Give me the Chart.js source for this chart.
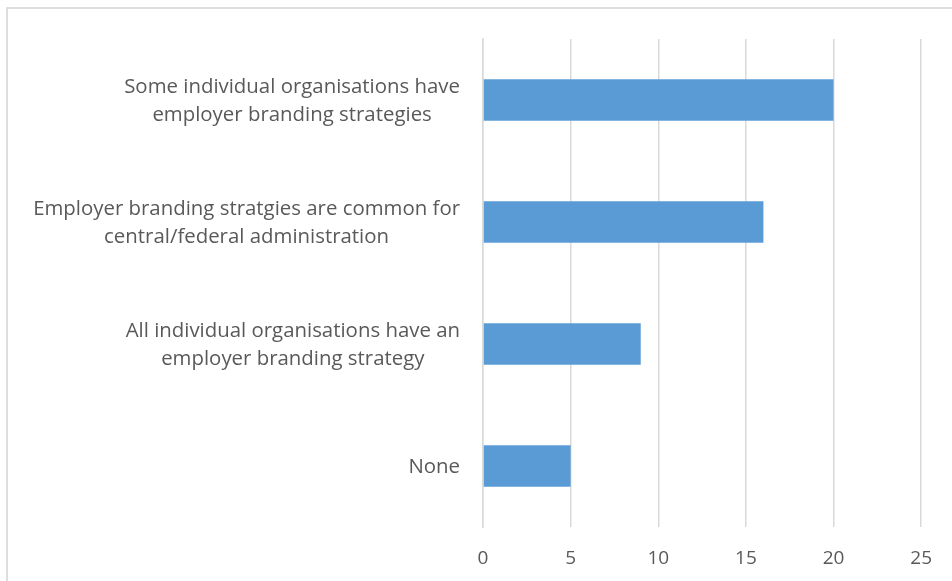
<!DOCTYPE html>
<html>
<head>
<meta charset="utf-8">
<script src="https://cdn.jsdelivr.net/npm/chart.js@4/dist/chart.umd.min.js"></script>
<style>
	html, body { margin: 0; padding: 0; background: #fff; }
	#wrap { position: relative; width: 952px; height: 581px; overflow: hidden; }
	#chartBox { position: absolute; left: 0; top: 0; width: 952px; height: 581px; }
</style>
</head>
<body>
<div id="wrap">
	<div id="chartBox"><canvas id="barChart" width="952" height="581"></canvas></div>
</div>
<script>
// categories, each split into the lines shown beside the bar
var categories = [
	['Some individual organisations have', 'employer branding strategies'],
	['Employer branding stratgies are common for', 'central/federal administration'],
	['All individual organisations have an', 'employer branding strategy'],
	['None']
];
var values = [20, 16, 9, 5];
var xMin = 0;
var xMax = 25;
var xStep = 5;

var textColor = '#595959';
var gridColor = '#d9d9d9';
var barColor = '#5b9bd5';
var labelFont = '20.4px "Open Sans", sans-serif';

// frame around the chart
var framePlugin = {
	id: 'frame',
	beforeDraw: function(chart) {
		var ctx = chart.ctx;
		ctx.save();
		ctx.fillStyle = '#fff';
		ctx.fillRect(0, 0, chart.width, chart.height);
		ctx.strokeStyle = '#d4d4d4';
		ctx.lineWidth = 1.5;
		ctx.beginPath();
		ctx.moveTo(7, chart.height);
		ctx.lineTo(7, 8);
		ctx.lineTo(chart.width, 8);
		ctx.stroke();
		ctx.restore();
	}
};

// category labels: lines centred on each other, block right-aligned to the axis
var categoryLabels = {
	id: 'categoryLabels',
	afterDraw: function(chart) {
		var ctx = chart.ctx;
		var yScale = chart.scales.y;
		var gap = 23;
		var lineH = 28;
		ctx.save();
		ctx.font = labelFont;
		ctx.fillStyle = textColor;
		ctx.textAlign = 'center';
		ctx.textBaseline = 'middle';
		categories.forEach(function(lines, i) {
			var yc = yScale.getPixelForValue(i) + 1;
			var w = 0;
			lines.forEach(function(l) { w = Math.max(w, ctx.measureText(l).width); });
			var cx = chart.chartArea.left - gap - w / 2;
			lines.forEach(function(l, j) {
				ctx.fillText(l, cx, yc + (j - (lines.length - 1) / 2) * lineH);
			});
		});
		ctx.restore();
	}
};

var ctx = document.getElementById('barChart').getContext('2d');
var config = {
	type: 'bar',
	data: {
		labels: categories,
		datasets: [{
			data: values,
			backgroundColor: barColor,
			borderWidth: 0,
			categoryPercentage: 1,
			barPercentage: 0.342
		}]
	},
	options: {
		indexAxis: 'y',
		responsive: false,
		animation: false,
		layout: { padding: { top: 39, right: 30, left: 0, bottom: 0 } },
		plugins: {
			legend: { display: false },
			tooltip: { enabled: false }
		},
		scales: {
			x: {
				min: xMin,
				max: xMax,
				ticks: {
					stepSize: xStep,
					color: textColor,
					font: { family: '"Open Sans", sans-serif', size: 19 },
					padding: 20
				},
				grid: { color: gridColor, lineWidth: 1.5, drawTicks: false },
				border: { display: false },
				afterFit: function(scale) { scale.height = 54; }
			},
			y: {
				ticks: { display: false },
				grid: { display: false },
				border: { display: true, color: gridColor, width: 1.5 },
				afterFit: function(scale) { scale.width = 483; }
			}
		}
	},
	plugins: [framePlugin, categoryLabels]
};
var barChart = new Chart(ctx, config);
</script>
</body>
</html>
